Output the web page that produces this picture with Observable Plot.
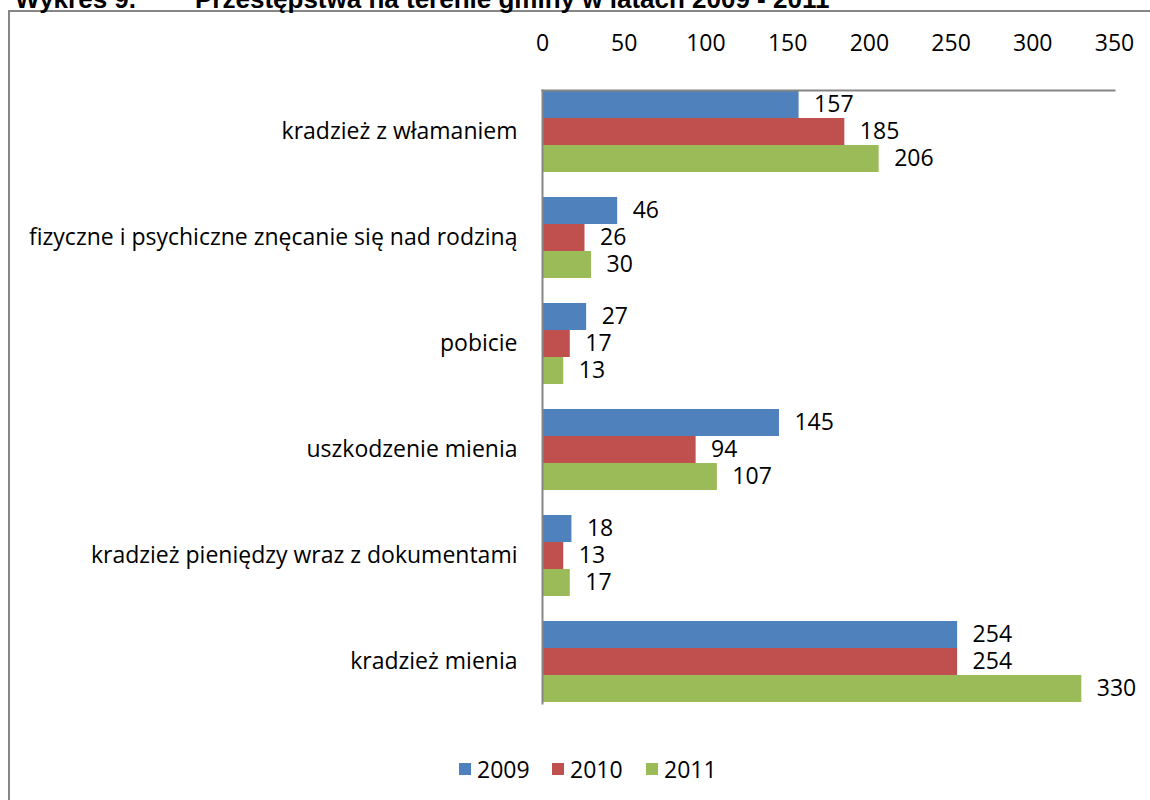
<!DOCTYPE html>
<html>
<head>
<meta charset="utf-8">
<script src="https://cdn.jsdelivr.net/npm/d3@7"></script>
<script src="https://cdn.jsdelivr.net/npm/@observablehq/plot@0.6"></script>
<style>
  html, body { margin: 0; padding: 0; background: #fff; overflow: hidden; }
  #wrap { position: relative; width: 1150px; height: 800px; overflow: hidden; }
  #border { position: absolute; left: 8px; top: 10px; width: 1200px; height: 850px;
            border-left: 2px solid #868686; border-top: 2px solid #868686; box-sizing: border-box; }
  .title { position: absolute; font-family: "Liberation Sans", Arial, sans-serif; font-weight: bold;
           font-size: 26px; line-height: 26px; color: #000; white-space: nowrap; }
  #chart { position: absolute; left: 0; top: 0; }
  #legend { position: absolute; top: 753px; left: 0; width: 1150px; font-family: "Open Sans", sans-serif;
            font-size: 23px; color: #000; }
  .item { position: absolute; display: flex; align-items: center; }
  .sw { width: 12px; height: 12px; margin-right: 6px; }
</style>
</head>
<body>
<div id="wrap">
  <div id="border"></div>
  <div class="title" id="t1">Wykres 9.</div>
  <div class="title" id="t2">Przestępstwa na terenie gminy w latach 2009 - 2011</div>
  <div id="chart"></div>
  <div id="legend"></div>
</div>
<script>
const categories = [
  "kradzież z włamaniem",
  "fizyczne i psychiczne znęcanie się nad rodziną",
  "pobicie",
  "uszkodzenie mienia",
  "kradzież pieniędzy wraz z dokumentami",
  "kradzież mienia"
];
const years = ["2009", "2010", "2011"];
const v2009 = [157, 46, 27, 145, 18, 254];
const v2010 = [185, 26, 17, 94, 13, 254];
const v2011 = [206, 30, 13, 107, 17, 330];
const colors = ["#4F81BD", "#C0504D", "#9BBB59"];
const xTicks = [0, 50, 100, 150, 200, 250, 300, 350];
const titleNo = "Wykres 9.";
const titleText = "Przestępstwa na terenie gminy w latach 2009 - 2011";

const series = [v2009, v2010, v2011];
const data = [];
categories.forEach((c, i) => {
  years.forEach((y, j) => data.push({category: c, year: y, value: series[j][i]}));
});

document.getElementById("t1").textContent = titleNo;
document.getElementById("t2").textContent = titleText;
const t1 = document.getElementById("t1"), t2 = document.getElementById("t2");
t1.style.top = "-14px"; t2.style.top = "-14px";
t2.style.left = "195px";
t1.style.left = (136 - t1.getBoundingClientRect().width) + "px";

const FONT = "'Open Sans', sans-serif";
const FS = 23;
const chart = Plot.plot({
  width: 1150,
  height: 800,
  marginLeft: 542,
  marginRight: 36,
  marginTop: 76,
  marginBottom: 83,
  style: {fontFamily: FONT, fontSize: FS + "px", color: "#000", background: "transparent", overflow: "visible"},
  x: {domain: [0, 350], ticks: xTicks},
  fy: {domain: categories, paddingInner: 0.213, paddingOuter: 0.1065, label: null},
  y: {domain: years, padding: 0, axis: null},
  color: {domain: years, range: colors},
  marks: [
    Plot.barX(data, {x: "value", y: "year", fy: "category", fill: "year"}),
    Plot.text(data, {x: "value", y: "year", fy: "category", text: d => String(d.value),
      textAnchor: "start", dx: 15, fill: "#000", fontSize: FS}),
    Plot.axisX({anchor: "top", ticks: xTicks, tickSize: 0, tickPadding: 40, label: null, fontSize: FS}),
    Plot.axisFy({anchor: "left", tickSize: 0, tickPadding: 25, label: null, fontSize: FS}),
    Plot.frame({anchor: "left", facet: "super", stroke: "#868686", strokeWidth: 2}),
    Plot.frame({anchor: "top", facet: "super", stroke: "#868686", strokeWidth: 2})
  ]
});
document.getElementById("chart").appendChild(chart);

const legend = document.getElementById("legend");
const legendX = [459, 552, 646];
years.forEach((y, i) => {
  const it = document.createElement("div");
  it.className = "item";
  it.style.left = legendX[i] + "px";
  const sw = document.createElement("span");
  sw.className = "sw";
  sw.style.background = colors[i];
  const tx = document.createElement("span");
  tx.textContent = y;
  it.appendChild(sw); it.appendChild(tx);
  legend.appendChild(it);
});
</script>
</body>
</html>
